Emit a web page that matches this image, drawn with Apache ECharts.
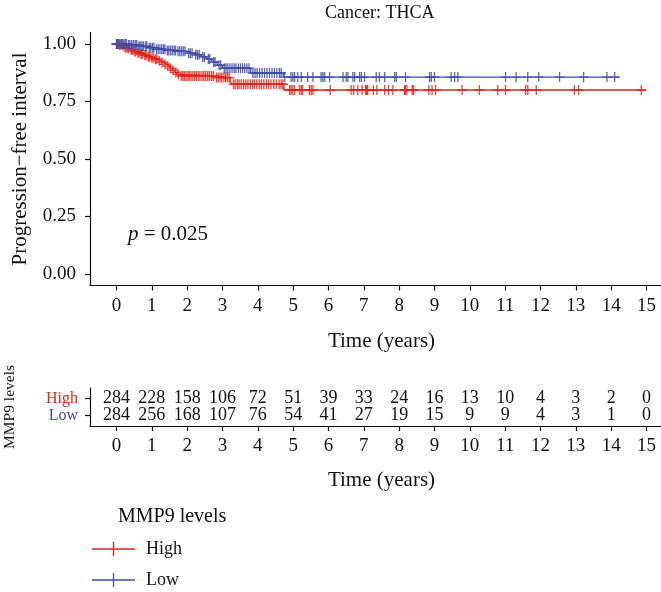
<!DOCTYPE html>
<html>
<head>
<meta charset="utf-8">
<script src="https://cdn.jsdelivr.net/npm/echarts@6/dist/echarts.min.js"></script>
<style>
  html, body { margin: 0; padding: 0; background: #ffffff; }
  #chart { width: 661px; height: 592px; }
</style>
</head>
<body>
<div id="chart"></div>
<script>
// Kaplan–Meier curves of progression-free interval by MMP9 level (THCA)

const timeTicks = [0, 1, 2, 3, 4, 5, 6, 7, 8, 9, 10, 11, 12, 13, 14, 15];
const survTicks = [0, 0.25, 0.5, 0.75, 1];
const groups = ['High', 'Low'];

// Number at risk at each yearly tick
const riskHigh = [284, 228, 158, 106, 72, 51, 39, 33, 24, 16, 13, 10, 4, 3, 2, 0];
const riskLow  = [284, 256, 168, 107, 76, 54, 41, 27, 19, 15, 9, 9, 4, 3, 1, 0];

// High group: event times and survival just after each event
const highEventTimes = [0.08, 0.15, 0.22, 0.30, 0.40, 0.50, 0.58, 0.68, 0.78, 0.88, 0.98, 1.08, 1.18, 1.26, 1.34, 1.42, 1.50, 1.58, 1.65, 1.72, 1.80, 2.80, 3.22, 3.27, 4.74];
const highSurv       = [0.996, 0.992, 0.985, 0.981, 0.974, 0.967, 0.962, 0.957, 0.951, 0.945, 0.940, 0.934, 0.927, 0.920, 0.912, 0.904, 0.895, 0.886, 0.877, 0.868, 0.861, 0.854, 0.838, 0.825, 0.800];
const highEnd = 14.99;
const highCensor = [0.00, 0.04, 0.09, 0.13, 0.19, 0.24, 0.27, 0.32, 0.35, 0.42, 0.46, 0.52, 0.55, 0.61, 0.64, 0.70, 0.73, 0.80, 0.84, 0.90, 0.94, 1.00, 1.04, 1.10, 1.14, 1.21, 1.29, 1.37, 1.45, 1.53, 1.60, 1.68, 1.75, 1.83, 1.88, 1.92, 1.97, 2.02, 2.06, 2.11, 2.16, 2.21, 2.26, 2.31, 2.36, 2.42, 2.47, 2.52, 2.58, 2.63, 2.69, 2.74, 2.83, 2.88, 2.93, 2.98, 3.04, 3.09, 3.14, 3.19, 3.31, 3.36, 3.42, 3.47, 3.53, 3.60, 3.66, 3.72, 3.79, 3.85, 3.90, 3.97, 4.04, 4.10, 4.17, 4.24, 4.30, 4.37, 4.45, 4.52, 4.60, 4.66, 4.71,
  4.90, 4.94, 4.99, 5.04, 5.18, 5.23, 5.27, 5.46, 5.51, 5.56, 6.05, 6.64, 6.71, 6.83, 6.95, 7.05, 7.08, 7.11, 7.27, 7.37, 7.59, 7.70, 7.82, 8.15, 8.18, 8.22, 8.37, 8.41, 8.84, 8.93, 9.03, 9.78, 10.27, 10.79, 11.01, 11.58, 11.64, 11.88, 12.96, 13.08, 14.85];

// Low group
const lowEventTimes = [0.30, 0.60, 0.90, 1.10, 1.40, 1.70, 2.00, 2.20, 2.40, 2.55, 2.70, 2.85, 3.00, 3.80, 4.72];
const lowSurv       = [0.996, 0.990, 0.984, 0.977, 0.972, 0.968, 0.960, 0.953, 0.944, 0.935, 0.922, 0.908, 0.895, 0.874, 0.856];
const lowEnd = 14.24;
const lowCensor = [0.00, 0.03, 0.06, 0.10, 0.14, 0.17, 0.21, 0.25, 0.28, 0.34, 0.38, 0.43, 0.48, 0.53, 0.57, 0.63, 0.67, 0.72, 0.76, 0.82, 0.86, 0.93, 0.97, 1.02, 1.06, 1.13, 1.18, 1.23, 1.28, 1.33, 1.37, 1.44, 1.48, 1.53, 1.58, 1.63, 1.67, 1.74, 1.79, 1.84, 1.89, 1.94, 2.04, 2.09, 2.14, 2.24, 2.29, 2.34, 2.44, 2.49, 2.60, 2.64, 2.75, 2.79, 2.90, 2.95, 3.05, 3.10, 3.15, 3.21, 3.27, 3.33, 3.38, 3.45, 3.51, 3.57, 3.63, 3.69, 3.75, 3.86, 3.92, 3.98, 4.05, 4.12, 4.19, 4.26, 4.33, 4.40, 4.47, 4.54, 4.61, 4.66,
  4.76, 4.94, 4.99, 5.04, 5.13, 5.23, 5.41, 5.56, 5.79, 5.84, 5.89, 6.03, 6.41, 6.50, 6.55, 6.69, 6.74, 6.88, 6.93, 7.02, 7.35, 7.44, 7.59, 7.87, 7.92, 8.18, 8.86, 8.91, 9.00, 9.47, 9.57, 9.66, 11.01, 11.31, 11.64, 11.95, 12.54, 13.22, 13.88, 14.10];

const FONT = '"Liberation Serif", "DejaVu Serif", serif';
const RED = '#E2231A';
const BLUE = '#3F4CA8';
const INK = '#111111';
const PLUS = 'path://M4.35,0H5.65V10H4.35Z M0,4.35H10V5.65H0Z';
const LEGEND_ICON = 'path://M0,6.35H43V7.65H0Z M20.85,0H22.15V14H20.85Z';

function stepData(times, surv, end) {
  const pts = [[0, 1]];
  times.forEach((t, i) => pts.push([t, surv[i]]));
  pts.push([end, surv[surv.length - 1]]);
  return pts;
}
function survivalAt(times, surv, t) {
  let s = 1;
  for (let i = 0; i < times.length; i++) { if (times[i] <= t) s = surv[i]; }
  return s;
}
function censorData(censor, times, surv) {
  return censor.map(t => [t, survivalAt(times, surv, t)]);
}
function riskData(counts, row) {
  return counts.map((n, i) => [timeTicks[i], row, n]);
}

const chart = echarts.init(document.getElementById('chart'), null, { renderer: 'canvas' });

const axisLineStyle = { color: INK, width: 1.2 };
const tickLabelStyle = { fontFamily: FONT, fontSize: 19, color: INK };

function timeAxis(gridIndex, nameGap) {
  return {
    type: 'value', gridIndex, min: -0.75, max: 15.41,
    axisLine: { show: true, onZero: false, lineStyle: axisLineStyle },
    axisTick: { show: true, length: 5, customValues: timeTicks, lineStyle: axisLineStyle },
    axisLabel: { customValues: timeTicks, margin: 11, ...tickLabelStyle },
    splitLine: { show: false },
    name: 'Time (years)', nameLocation: 'middle', nameGap,
    nameTextStyle: { fontFamily: FONT, fontSize: 21, color: INK, padding: [0, 0, 0, 12] }
  };
}

// One legend block per group, stacked vertically under the "MMP9 levels" heading
function legendEntry(name, top) {
  return {
    data: [name], orient: 'vertical', left: 92, top, padding: 0,
    itemWidth: 43, itemHeight: 14, icon: LEGEND_ICON,
    textStyle: { fontFamily: FONT, fontSize: 18, color: INK, padding: [0, 0, 0, 6] }
  };
}

const option = {
  animation: false,
  backgroundColor: '#ffffff',
  grid: [
    { left: 90, top: 32.5, width: 571, height: 253, outerBoundsMode: 'none', containLabel: false },
    { left: 90, top: 388, width: 571, height: 38, outerBoundsMode: 'none', containLabel: false }
  ],
  xAxis: [timeAxis(0, 45.5), timeAxis(1, 44)],
  yAxis: [
    {
      type: 'value', gridIndex: 0, min: -0.05, max: 1.05,
      axisLine: { show: true, onZero: false, lineStyle: axisLineStyle },
      axisTick: { show: true, length: 5, customValues: survTicks, lineStyle: axisLineStyle },
      axisLabel: { customValues: survTicks, margin: 14, formatter: v => v.toFixed(2), ...tickLabelStyle },
      splitLine: { show: false },
      name: 'Progression\u2212free interval', nameLocation: 'middle', nameGap: 59, nameRotate: 90,
      nameTextStyle: { fontFamily: FONT, fontSize: 21, color: INK }
    },
    {
      type: 'value', gridIndex: 1, min: 0.4, max: 2.6, inverse: true,
      axisLine: { show: true, onZero: false, lineStyle: axisLineStyle },
      axisTick: { show: true, length: 5, customValues: [1, 2], lineStyle: axisLineStyle },
      axisLabel: {
        customValues: [1, 2], margin: 12, fontFamily: FONT, fontSize: 16,
        formatter: v => (v === 1 ? '{h|' + groups[0] + '}' : '{l|' + groups[1] + '}'),
        rich: {
          h: { color: RED, fontFamily: FONT, fontSize: 16 },
          l: { color: BLUE, fontFamily: FONT, fontSize: 16 }
        }
      },
      splitLine: { show: false },
      name: 'MMP9 levels', nameLocation: 'middle', nameGap: 72, nameRotate: 90,
      nameTextStyle: { fontFamily: FONT, fontSize: 15.5, color: INK }
    }
  ],
  legend: [legendEntry(groups[0], 540), legendEntry(groups[1], 571)],
  series: [
    {
      name: 'High', type: 'line', step: 'end', symbol: 'none', xAxisIndex: 0, yAxisIndex: 0,
      data: stepData(highEventTimes, highSurv, highEnd),
      lineStyle: { color: RED, width: 1.3 }, itemStyle: { color: RED }, z: 3
    },
    {
      name: 'Low', type: 'line', step: 'end', symbol: 'none', xAxisIndex: 0, yAxisIndex: 0,
      data: stepData(lowEventTimes, lowSurv, lowEnd),
      lineStyle: { color: BLUE, width: 1.3 }, itemStyle: { color: BLUE }, z: 4
    },
    {
      name: 'High censored', type: 'scatter', xAxisIndex: 0, yAxisIndex: 0,
      symbol: PLUS, symbolSize: 10, data: censorData(highCensor, highEventTimes, highSurv),
      itemStyle: { color: RED, opacity: 0.85 }, z: 3
    },
    {
      name: 'Low censored', type: 'scatter', xAxisIndex: 0, yAxisIndex: 0,
      symbol: PLUS, symbolSize: 10, data: censorData(lowCensor, lowEventTimes, lowSurv),
      itemStyle: { color: BLUE, opacity: 0.85 }, z: 4
    },
    {
      name: 'At risk', type: 'scatter', xAxisIndex: 1, yAxisIndex: 1,
      symbolSize: 0, itemStyle: { color: '#ffffff', opacity: 1 },
      data: riskData(riskHigh, 1).concat(riskData(riskLow, 2)),
      label: {
        show: true, position: 'inside', formatter: p => String(p.value[2]),
        fontFamily: FONT, fontSize: 18, color: INK, textBorderWidth: 0, opacity: 1
      }
    }
  ],
  graphic: [
    {
      type: 'text', left: 325, top: 4,
      style: { text: 'Cancer: THCA', font: '18px ' + FONT, fill: INK }
    },
    {
      type: 'text', left: 128, top: 224,
      style: {
        text: '{i|p} = 0.025', font: '21px ' + FONT, fill: INK,
        rich: { i: { fontStyle: 'italic', fontFamily: FONT, fontSize: 21, fill: INK } }
      }
    },
    {
      type: 'text', left: 118, top: 507,
      style: { text: 'MMP9 levels', font: '20px ' + FONT, fill: INK }
    }
  ]
};

chart.setOption(option);
</script>
</body>
</html>
